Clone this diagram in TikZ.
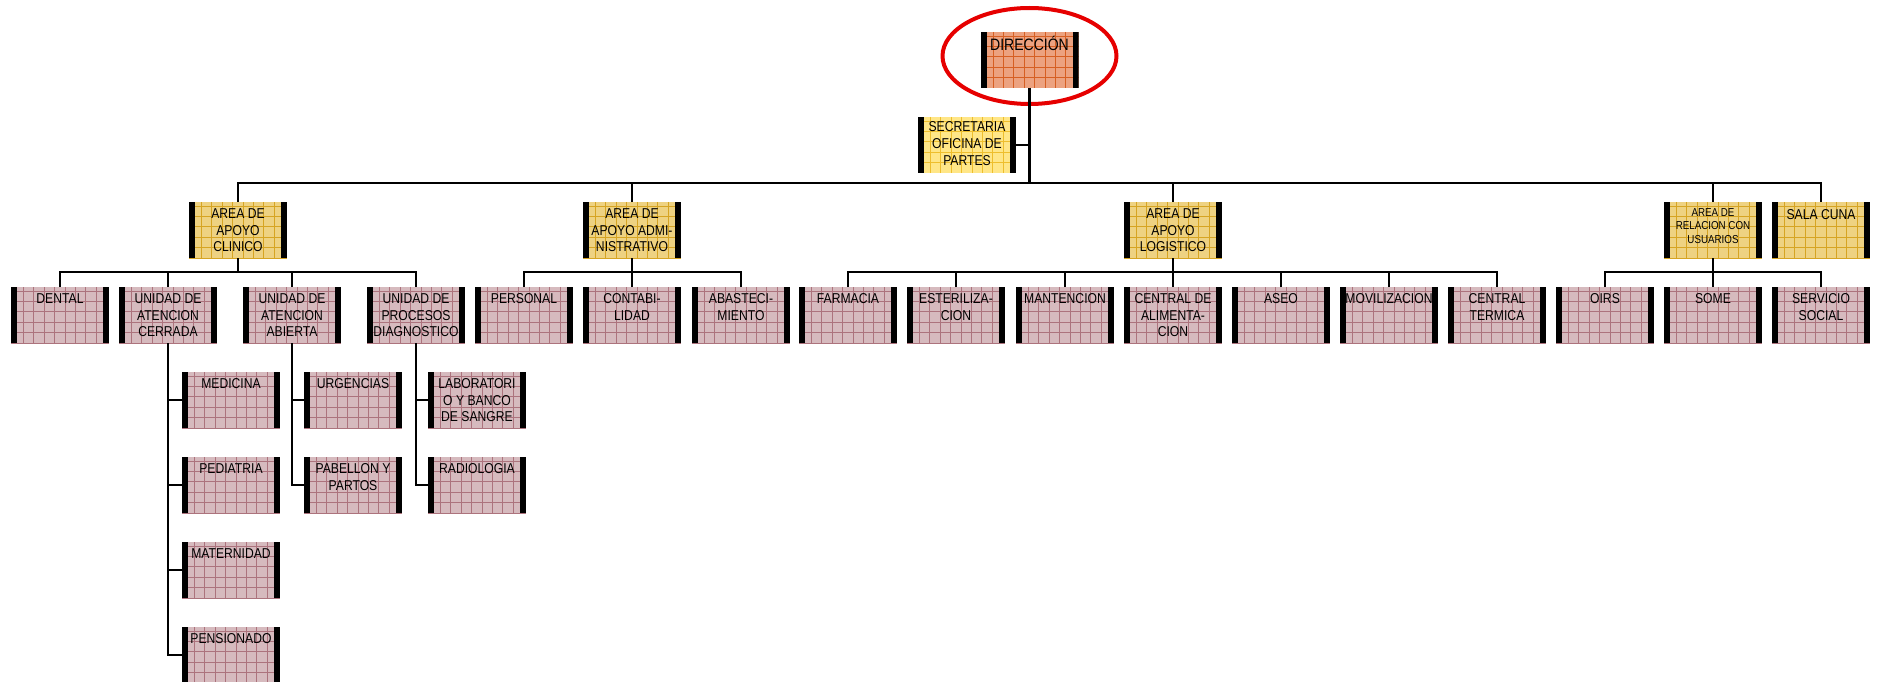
\documentclass[tikz,border=0pt]{standalone}
\usepackage{fontspec}
\setmainfont{Liberation Sans}[FakeStretch=0.85]
\definecolor{dirfill}{RGB}{236,162,128}
\definecolor{dirgrid}{RGB}{214,95,35}
\definecolor{yfill}{RGB}{238,210,130}
\definecolor{ygrid}{RGB}{214,164,35}
\definecolor{sfill}{RGB}{255,230,135}
\definecolor{sgrid}{RGB}{238,190,45}
\definecolor{pfill}{RGB}{214,186,190}
\definecolor{pgrid}{RGB}{172,115,125}
\definecolor{ringred}{RGB}{230,0,0}
\newcommand{\tx}[2][16.5pt]{\parbox[t][56pt][t]{98pt}{\centering\rule{0pt}{#1}#2}}
\tikzset{
  gcol/.store in=\gcol, gcol=black,
  card/.style={anchor=north west, inner sep=0pt, outer sep=0pt,
    minimum width=98, minimum height=56,
    font=\fontsize{14.3pt}{16.7pt}\selectfont,
    path picture={
      \foreach \k in {0,...,9}{
        \draw[line width=0.65pt, draw=\gcol]
          ([xshift=\k*10.4pt+2pt]path picture bounding box.north west) --
          ([xshift=\k*10.4pt+2pt]path picture bounding box.south west);
      }
      \foreach \k in {0,...,5}{
        \draw[line width=0.65pt, draw=\gcol]
          ([yshift=-\k*10.4pt-4pt]path picture bounding box.north west) --
          ([yshift=-\k*10.4pt-4pt]path picture bounding box.north east);
      }
      \fill[black] (path picture bounding box.north west) rectangle
        ([xshift=6pt]path picture bounding box.south west);
      \fill[black] (path picture bounding box.north east) rectangle
        ([xshift=-6pt]path picture bounding box.south east);
    }},
  pinkbox/.style={card, fill=pfill, gcol=pgrid},
  areabox/.style={card, fill=yfill, gcol=ygrid},
  secbox/.style={card, fill=sfill, gcol=sgrid},
  dirbox/.style={card, fill=dirfill, gcol=dirgrid, font=\fontsize{16.5pt}{19pt}\selectfont},
  conn/.style={draw=black, line width=2.2pt},
  ring/.style={draw=ringred, line width=4pt}
}
\begin{document}
\begin{tikzpicture}[x=1pt, y=-1pt]
\useasboundingbox (0,0) rectangle (1880,682);
% top
\node[dirbox] (dir) at (980.5,32) {\tx[19pt]{DIRECCIÓN}};
\draw[ring] (1029.5,56) ellipse [x radius=87, y radius=48];
\node[secbox] (sec) at (918,117) {\tx[15pt]{SECRETARIA\\OFICINA DE\\PARTES}};
% level 2
\node[areabox] (aac) at (189,202) {\tx{AREA DE\\APOYO\\CLINICO}};
\node[areabox] (aaa) at (583,202) {\tx{AREA DE\\APOYO ADMI-\\NISTRATIVO}};
\node[areabox] (aal) at (1124,202) {\tx{AREA DE\\APOYO\\LOGISTICO}};
\node[areabox, font=\fontsize{11.5pt}{13.6pt}\selectfont] (aru) at (1664,202) {\tx[14pt]{AREA DE\\RELACION CON\\USUARIOS}};
\node[areabox] (sala) at (1772,202) {\tx[17pt]{SALA CUNA}};
% level 3
\node[pinkbox] (dental) at (11,287) {\tx{DENTAL}};
\node[pinkbox] (uac) at (119,287) {\tx{UNIDAD DE\\ATENCION\\CERRADA}};
\node[pinkbox] (uaa) at (243,287) {\tx{UNIDAD DE\\ATENCION\\ABIERTA}};
\node[pinkbox] (upd) at (367,287) {\tx{UNIDAD DE\\PROCESOS\\DIAGNOSTICO}};
\node[pinkbox] (personal) at (475,287) {\tx{PERSONAL}};
\node[pinkbox] (contab) at (583,287) {\tx{CONTABI-\\LIDAD}};
\node[pinkbox] (abast) at (692,287) {\tx{ABASTECI-\\MIENTO}};
\node[pinkbox] (farm) at (799,287) {\tx{FARMACIA}};
\node[pinkbox] (ester) at (907,287) {\tx{ESTERILIZA-\\CION}};
\node[pinkbox] (mant) at (1016,287) {\tx{MANTENCION}};
\node[pinkbox] (cal) at (1124,287) {\tx{CENTRAL DE\\ALIMENTA-\\CION}};
\node[pinkbox] (aseo) at (1232,287) {\tx{ASEO}};
\node[pinkbox] (movil) at (1340,287) {\tx{MOVILIZACION}};
\node[pinkbox] (cterm) at (1448,287) {\tx{CENTRAL\\TERMICA}};
\node[pinkbox] (oirs) at (1556,287) {\tx{OIRS}};
\node[pinkbox] (some) at (1664,287) {\tx{SOME}};
\node[pinkbox] (ssoc) at (1772,287) {\tx{SERVICIO\\SOCIAL}};
% level 4
\node[pinkbox] (med) at (182,372) {\tx{MEDICINA}};
\node[pinkbox] (ped) at (182,457) {\tx{PEDIATRIA}};
\node[pinkbox] (mat) at (182,542) {\tx{MATERNIDAD}};
\node[pinkbox] (pen) at (182,627) {\tx{PENSIONADO}};
\node[pinkbox] (urg) at (304,372) {\tx{URGENCIAS}};
\node[pinkbox] (pab) at (304,457) {\tx{PABELLON Y\\PARTOS}};
\node[pinkbox] (lab) at (428,372) {\tx{LABORATORI\\O Y BANCO\\DE SANGRE}};
\node[pinkbox] (rad) at (428,457) {\tx{RADIOLOGIA}};
% connectors top
\coordinate (bus) at (1029.5,183);
\draw[conn] (dir.south) -- (bus);
\draw[conn] (sec.east) -- (sec.east -| dir.south);
\draw[conn] (aac.north) |- (bus) -| (sala.north);
\draw[conn] (aaa.north) -- (aaa.north |- bus);
\draw[conn] (aal.north) -- (aal.north |- bus);
\draw[conn] (aru.north) -- (aru.north |- bus);
% level-2 groups
\draw[conn] (aac.south) -- ++(0,14) coordinate (b1);
\draw[conn] (dental.north) |- (b1) -| (upd.north);
\draw[conn] (uac.north) -- (uac.north |- b1);
\draw[conn] (uaa.north) -- (uaa.north |- b1);
\draw[conn] (aaa.south) -- ++(0,14) coordinate (b2);
\draw[conn] (personal.north) |- (b2) -| (abast.north);
\draw[conn] (contab.north) -- (contab.north |- b2);
\draw[conn] (aal.south) -- ++(0,14) coordinate (b3);
\draw[conn] (farm.north) |- (b3) -| (cterm.north);
\draw[conn] (ester.north) -- (ester.north |- b3);
\draw[conn] (mant.north) -- (mant.north |- b3);
\draw[conn] (cal.north) -- (cal.north |- b3);
\draw[conn] (aseo.north) -- (aseo.north |- b3);
\draw[conn] (movil.north) -- (movil.north |- b3);
\draw[conn] (aru.south) -- ++(0,14) coordinate (b4);
\draw[conn] (oirs.north) |- (b4) -| (ssoc.north);
\draw[conn] (some.north) -- (some.north |- b4);
% level-4
\draw[conn] (uac.south) |- (pen.west);
\draw[conn] (med.west) -- (med.west -| uac.south);
\draw[conn] (ped.west) -- (ped.west -| uac.south);
\draw[conn] (mat.west) -- (mat.west -| uac.south);
\draw[conn] (uaa.south) |- (pab.west);
\draw[conn] (urg.west) -- (urg.west -| uaa.south);
\draw[conn] (upd.south) |- (rad.west);
\draw[conn] (lab.west) -- (lab.west -| upd.south);
\end{tikzpicture}
\end{document}
